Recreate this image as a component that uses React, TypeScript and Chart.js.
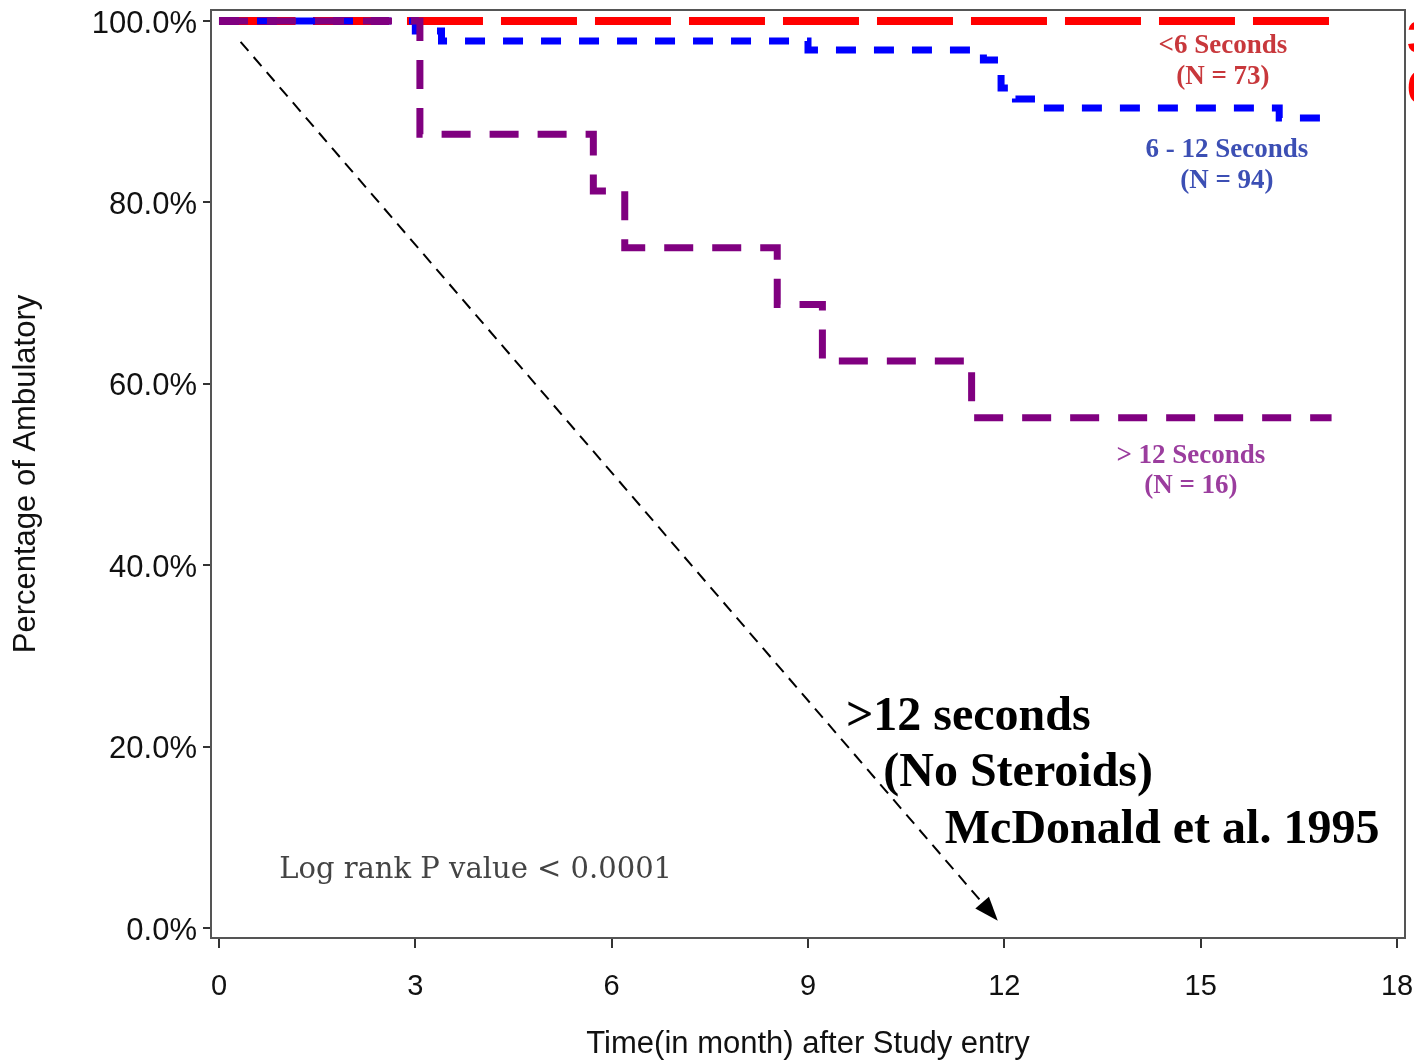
import React, { useEffect, useRef } from "react";
import { Chart, registerables } from "chart.js";

Chart.register(...registerables);

// ---- Data (Kaplan-Meier style step curves; x = months, y = % ambulatory) ----
const redTimes = [0, 17.0];
const redValues = [100, 100];

const blueTimes = [0, 3.0, 3.4, 9.0, 11.68, 11.95, 12.17, 12.6, 16.2, 16.9];
const blueValues = [100, 98.9, 97.8, 96.8, 95.7, 92.6, 91.4, 90.4, 89.3, 89.3];

const purpleTimes = [0, 3.07, 5.72, 6.2, 8.53, 9.22, 11.5, 17.0];
const purpleValues = [100, 87.5, 81.25, 75.0, 68.75, 62.5, 56.25, 56.25];

const xTickValues = [0, 3, 6, 9, 12, 15, 18];
const yTickValues = [0, 20, 40, 60, 80, 100];

const seriesLabels = ["> 12 Seconds", "6 - 12 Seconds", "<6 Seconds"];

// arrow annotation (data coordinates)
const arrowFrom = { x: 0.33, y: 97.7 };
const arrowTo = { x: 11.9, y: 0.8 };

const toPts = (xs: number[], ys: number[]) => xs.map((x, i) => ({ x, y: ys[i] }));

export default function App() {
  const ref = useRef<HTMLCanvasElement | null>(null);

  useEffect(() => {
    if (!ref.current) return;

    const annotations = {
      id: "annotations",
      afterDatasetsDraw(chart: any) {
        const { ctx, chartArea, scales } = chart;
        const xs = scales.x;
        const ys = scales.y;
        const px = (v: number) => xs.getPixelForValue(v);
        const py = (v: number) => ys.getPixelForValue(v);
        ctx.save();

        // frame
        ctx.strokeStyle = "#555";
        ctx.lineWidth = 2;
        ctx.strokeRect(chartArea.left, chartArea.top, chartArea.right - chartArea.left, chartArea.bottom - chartArea.top);

        // dashed arrow
        const x1 = px(arrowFrom.x), y1 = py(arrowFrom.y);
        const x2 = px(arrowTo.x), y2 = py(arrowTo.y);
        const ang = Math.atan2(y2 - y1, x2 - x1);
        const headLen = 24, headW = 9;
        ctx.strokeStyle = "#000";
        ctx.lineWidth = 2;
        ctx.setLineDash([12, 8]);
        ctx.beginPath();
        ctx.moveTo(x1, y1);
        ctx.lineTo(x2 - Math.cos(ang) * headLen, y2 - Math.sin(ang) * headLen);
        ctx.stroke();
        ctx.setLineDash([]);
        ctx.fillStyle = "#000";
        ctx.beginPath();
        ctx.moveTo(x2, y2);
        const bx = x2 - Math.cos(ang) * headLen, by = y2 - Math.sin(ang) * headLen;
        ctx.lineTo(bx + Math.sin(ang) * headW, by - Math.cos(ang) * headW);
        ctx.lineTo(bx - Math.sin(ang) * headW, by + Math.cos(ang) * headW);
        ctx.closePath();
        ctx.fill();

        // series labels
        ctx.textBaseline = "middle";
        ctx.textAlign = "center";
        ctx.font = "bold 27px 'Liberation Serif', serif";
        ctx.fillStyle = "#c8383c";
        ctx.fillText(seriesLabels[2], px(15.34), py(97.2));
        ctx.fillText("(N = 73)", px(15.34), py(93.8));
        ctx.fillStyle = "#3c4fb4";
        ctx.fillText(seriesLabels[1], px(15.4), py(85.8));
        ctx.fillText("(N = 94)", px(15.4), py(82.4));
        ctx.fillStyle = "#9b3d9e";
        ctx.fillText(seriesLabels[0], px(14.85), py(52.0));
        ctx.fillText("(N = 16)", px(14.85), py(48.7));

        // log rank
        ctx.textAlign = "left";
        ctx.font = "29px 'DejaVu Serif', serif";
        ctx.fillStyle = "#444";
        ctx.fillText("Log rank P value < 0.0001", px(0.92), py(6.3));

        // big bold annotation
        ctx.font = "bold 48px 'Liberation Serif', serif";
        ctx.fillStyle = "#000";
        ctx.fillText(">12 seconds", px(9.58), py(23.2));
        ctx.fillText("(No Steroids)", px(10.15), py(17.0));
        ctx.fillText("McDonald et al. 1995", px(11.09), py(10.7));

        // cropped red text at right edge
        ctx.font = "bold 46px 'Liberation Sans', Arial, sans-serif";
        ctx.fillStyle = "#ff0000";
        ctx.fillText("3", chart.width - 7, 40);
        ctx.fillText("6", chart.width - 7, 90);

        ctx.restore();
      },
    };

    const chart = new Chart(ref.current, {
      type: "line",
      data: {
        datasets: [
          {
            label: seriesLabels[0],
            data: toPts(purpleTimes, purpleValues),
            borderColor: "#800080",
            borderWidth: 7,
            borderDash: [29, 19],
            borderCapStyle: "butt",
            stepped: true,
            pointRadius: 0,
            fill: false,
          },
          {
            label: seriesLabels[1],
            data: toPts(blueTimes, blueValues),
            borderColor: "#0000ff",
            borderWidth: 7,
            borderDash: [20, 18],
            stepped: true,
            pointRadius: 0,
            fill: false,
          },
          {
            label: seriesLabels[2],
            data: toPts(redTimes, redValues),
            borderColor: "#ff0000",
            borderWidth: 8,
            borderDash: [76, 18],
            stepped: true,
            pointRadius: 0,
            fill: false,
          },
        ],
      },
      options: {
        animation: false,
        responsive: false,
        maintainAspectRatio: false,
        layout: { padding: { top: 10, right: 9, left: 0, bottom: 0 } },
        plugins: { legend: { display: false }, tooltip: { enabled: false } },
        scales: {
          x: {
            type: "linear",
            min: -0.122,
            max: 18.122,
            afterBuildTicks: (s: any) => {
              s.ticks = xTickValues.map((v) => ({ value: v }));
            },
            afterFit: (s: any) => {
              s.height = 125;
              s.paddingLeft = 0;
              s.paddingRight = 0;
            },
            border: { display: false },
            grid: { drawOnChartArea: false, drawTicks: true, tickLength: 10, color: "#333", lineWidth: 2 },
            ticks: {
              color: "#111",
              font: { family: "'Liberation Sans', Arial, sans-serif", size: 29 },
              padding: 22,
              maxRotation: 0,
              callback: (v: any) => String(v),
            },
            title: {
              display: true,
              text: "Time(in month) after Study entry",
              color: "#111",
              font: { family: "'Liberation Sans', Arial, sans-serif", size: 31 },
              padding: { top: 0, bottom: 0 },
            },
          },
          y: {
            type: "linear",
            min: -1.1,
            max: 101.21,
            afterBuildTicks: (s: any) => {
              s.ticks = yTickValues.map((v) => ({ value: v }));
            },
            afterFit: (s: any) => {
              s.width = 211;
              s.paddingTop = 0;
              s.paddingBottom = 0;
            },
            border: { display: false },
            grid: { drawOnChartArea: false, drawTicks: true, tickLength: 8, color: "#333", lineWidth: 2 },
            ticks: {
              color: "#111",
              font: { family: "'Liberation Sans', Arial, sans-serif", size: 31 },
              padding: 6,
              labelOffset: 3,
              callback: (v: any) => Number(v).toFixed(1) + "%",
            },
            title: {
              display: true,
              text: "Percentage of Ambulatory",
              color: "#111",
              font: { family: "'Liberation Sans', Arial, sans-serif", size: 31 },
              padding: { top: 8, bottom: 0 },
            },
          },
        },
      },
      plugins: [annotations],
    } as any);

    return () => chart.destroy();
  }, []);

  return (
    <div style={{ position: "fixed", left: 0, top: 0, width: 1414, height: 1063, background: "#fff" }}>
      <canvas ref={ref} width={1414} height={1063} style={{ width: 1414, height: 1063, display: "block" }} />
    </div>
  );
}
